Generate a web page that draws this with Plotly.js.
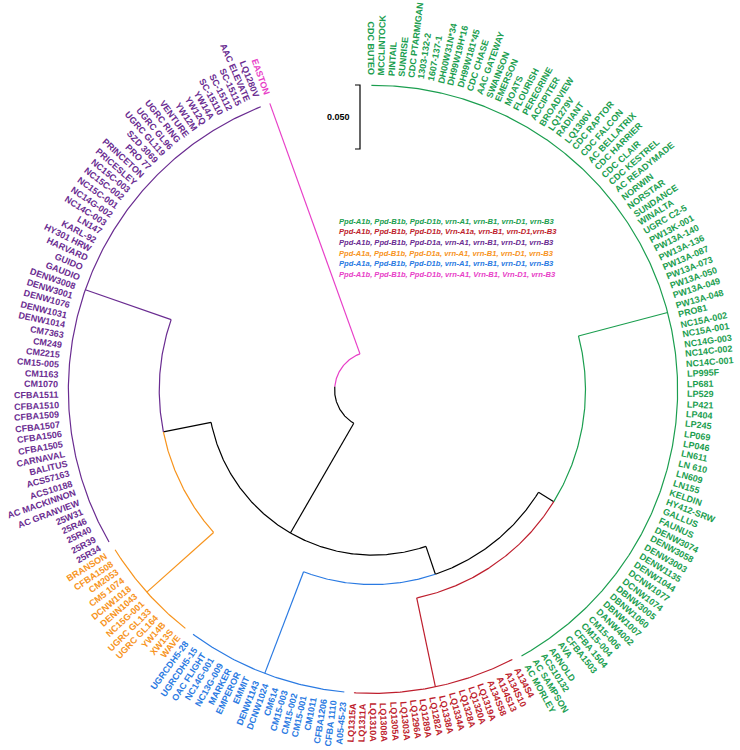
<!DOCTYPE html>
<html><head><meta charset="utf-8">
<script src="https://cdn.plot.ly/plotly-3.0.1.min.js"></script>
<style>html,body{margin:0;padding:0;background:#fff}#chart{width:740px;height:750px}</style>
</head><body><div id="chart"></div>
<script>
// ---------- DATA ----------
const greenLeaves = ['CDC BUTEO','MCCLINTOCK','PINTAIL','SUNRISE','CDC PTARMIGAN','1303-132-2','1607-137-1','DH00W31N*34','DH99W19H*16','DH99W181*45','CDC CHASE','AAC GATEWAY','SWAINSON','EMERSON','MOATS','FLOURISH','PEREGRINE','ACCIPITER','BROADVIEW','LQ1279V','RADIANT','LQ1306V','CDC RAPTOR','CDC FALCON','AC BELLATRIX','CDC HARRIER','CDC CLAIR','CDC KESTREL','AC READYMADE','NORWIN','NORSTAR','SUNDANCE','WINALTA','UGRC C2-5','PW13K-001','PW13A-140','PW13A-136','PW13A-087','PW13A-073','PW13A-050','PW13A-049','PW13A-048','PRO81','NC15A-002','NC15A-001','NC14G-003','NC14C-002','NC14C-001','LP995F','LP681','LP529','LP421','LP404','LP245','LP069','LP046','LN611','LN 610','LN609','LN155','KELDIN','HY412-SRW','GALLUS','FAUNUS','DENW3074','DENW3058','DENW3003','DENW1135','DENW1044','DCNW1077','DCNW1074','DBNW3005','DBNW1060','DBNW1007','DANW4002','CM15-006','CM15-004','CFBA 1504','CFBA1503','AVA','ARNOLD','ACS10132','AC SAMPSON','AC MORLEY'];
const redLeaves = ['A134S4','A134S10','A134S13','A134S58','LQ1319A','LQ1320A','LQ1328A','LQ1334A','LQ1338A','LQ1282A','LQ1289A','LQ1296A','LQ1303A','LQ1305A','LQ1308A','LQ1310A','LQ1311A','LQ1315A'];
const blueLeaves = ['A05-45-23','CFBA 1110','CFBA1206','CM1011','CM15-001','CM15-002','CM15-003','CM614','DCNW1024','DENW1143','EMMIT','EMPEROR','MARKER','NC13G-009','NC14G-001','OAC FLIGHT','UGRCDH5-15','UGRCDH5-28'];
const orangeLeaves = ['WAVE','XW13S','YW14B','UGRC GL164','UGRC GL133','NC15G-001','DENN1043','DCNW1018','CM5 1074','CM2053','CFBA1508','BRANSON'];
const purpleLeaves = ['25R34','25R39','25R40','25R46','25W31','AC GRANVIEW','AC MACKINNON','ACS10188','ACS57163','BALITUS','CARNAVAL','CFBA1505','CFBA1506','CFBA1507','CFBA1509','CFBA1510','CFBA1511','CM1070','CM1163','CM15-005','CM2215','CM249','CM7363','DENW1014','DENW1031','DENW1076','DENW3001','DENW3008','GAUDIO','GUIDO','HARVARD','HY301 HRW','KARL-92','LN147','NC14C-003','NC14G-002','NC15C-001','NC15C-002','NC15C-003','PRICESLEY','PRINCETON','PRO 77','SZD 3069','UGRC GL119','UGRC GL96','UGRC RING','VENTURE','YW12M','YW12Q','YW14A','SC-15110','SC-15112','SC-15115','AAC ELEVATE','LQ1280V'];
const pinkLeaves = ['EASTON'];

const cladeColors = ['#1b9e4f','#be1e2d','#2a7ae2','#f7941d','#6a2c91','#e83fc8'];
// distances from the root (tree units)
const cladeHeights = [0.238, 0.237, 0.237, 0.237, 0.238, 0.238];
const hGR = 0.166, hY = 0.152, hPO = 0.167, hZ = 0.129, hRoot = 0.03;
const scaleBarLength = 0.05;
const scaleBarLabel = '0.050';

const legendTexts = [
  'Ppd-A1b, Ppd-B1b, Ppd-D1b, vrn-A1, vrn-B1, vrn-D1, vrn-B3',
  'Ppd-A1b, Ppd-B1b, Ppd-D1b, Vrn-A1a, vrn-B1, vrn-D1,vrn-B3',
  'Ppd-A1b, Ppd-B1b, Ppd-D1a, vrn-A1, vrn-B1, vrn-D1, vrn-B3',
  'Ppd-A1a, Ppd-B1b, Ppd-D1a, vrn-A1, vrn-B1, vrn-D1, vrn-B3',
  'Ppd-A1a, Ppd-B1b, Ppd-D1b, vrn-A1, vrn-B1, vrn-D1, vrn-B3',
  'Ppd-A1b, Ppd-B1b, Ppd-D1b, vrn-A1, Vrn-B1, Vrn-D1, vrn-B3'
];
const legendColors = ['#1b9e4f','#be1e2d','#6a2c91','#f7941d','#2a7ae2','#e83fc8'];

// ---------- LAYOUT ----------
const W = 740, H = 750;
const S = 1280;          // pixels per tree unit
const CX = 373, CY = 390; // pixel position of the tree centre
const theta0 = -0.3, sweep = 340.5;
const FONT = 'Liberation Sans, Arial, sans-serif';

const cladeLeaves = [greenLeaves, redLeaves, blueLeaves, orangeLeaves, purpleLeaves, pinkLeaves];
function clade(i){ return {h: cladeHeights[i], leaves: cladeLeaves[i], color: cladeColors[i]}; }
function node(h, children){ return {h, children, color: '#000000'}; }
const tree = node(hRoot, [
  node(hZ, [
    node(hY, [ node(hGR, [clade(0), clade(1)]), clade(2) ]),
    node(hPO, [ clade(3), clade(4) ])
  ]),
  clade(5)
]);

const N = cladeLeaves.reduce((s, l) => s + l.length, 0);
const step = sweep / (N - 1);
let li = 0;
function assign(n){
  if (n.leaves){
    n.angles = n.leaves.map(() => theta0 + (li++) * step);
    n.a = (n.angles[0] + n.angles[n.angles.length-1]) / 2;
  } else {
    n.children.forEach(assign);
    n.a = (n.children[0].a + n.children[n.children.length-1].a) / 2;
  }
}
assign(tree);

function P(h, a){ const t = a * Math.PI / 180; return [h * Math.sin(t), h * Math.cos(t)]; }
const segs = {};
function add(color, pts){
  if (!segs[color]) segs[color] = {x: [], y: []};
  pts.forEach(p => { segs[color].x.push(p[0]); segs[color].y.push(p[1]); });
  segs[color].x.push(null); segs[color].y.push(null);
}
function arc(h, a1, a2){
  const n = Math.max(2, Math.ceil(Math.abs(a2 - a1) / 0.4) + 1), pts = [];
  for (let k = 0; k < n; k++) pts.push(P(h, a1 + (a2 - a1) * k / (n - 1)));
  return pts;
}
function draw(n, parentH){
  if (parentH !== null) add(n.color, [P(parentH, n.a), P(n.h, n.a)]);
  if (n.leaves){
    if (n.leaves.length > 1) add(n.color, arc(n.h, n.angles[0], n.angles[n.angles.length-1]));
  } else {
    n.children.forEach(c => { add(c.color, arc(n.h, n.a, c.a)); draw(c, n.h); });
  }
}
draw(tree, null);

const traces = Object.keys(segs).map(c => ({
  type: 'scatter', mode: 'lines', x: segs[c].x, y: segs[c].y,
  line: {color: c, width: 1.2}, hoverinfo: 'skip', showlegend: false
}));

// scale bar
const px2x = px => (px - CX) / S, px2y = py => (CY - py) / S;
const sbX = px2x(360), sbTop = px2y(85);
traces.push({type: 'scatter', mode: 'lines',
  x: [sbX - 5/S, sbX, sbX, sbX - 5/S], y: [sbTop, sbTop, sbTop - scaleBarLength, sbTop - scaleBarLength],
  line: {color: '#000', width: 1.2}, hoverinfo: 'skip', showlegend: false});

// labels
const cv = document.createElement('canvas').getContext('2d');
cv.font = 'bold 9px "Liberation Sans", Arial, sans-serif';
const annotations = [];
const labelGap = 10 / S;
function labelsFor(n){
  if (n.leaves){
    n.leaves.forEach((name, k) => {
      const a = n.angles[k];
      const w = cv.measureText(name).width / S;
      const p = P(n.h + labelGap + w / 2, a);
      const ta = (a % 360 + 360) % 360 < 180 ? a - 90 : a - 270;
      annotations.push({x: p[0], y: p[1], xref: 'x', yref: 'y', text: '<b>' + name + '</b>',
        showarrow: false, textangle: ta, xanchor: 'center', yanchor: 'middle',
        font: {family: FONT, size: 9, color: n.color}, borderpad: 0});
    });
  } else n.children.forEach(labelsFor);
}
labelsFor(tree);

annotations.push({x: sbX - 8/S, y: sbTop - scaleBarLength/2, xref: 'x', yref: 'y', text: '<b>' + scaleBarLabel + '</b>',
  showarrow: false, xanchor: 'right', yanchor: 'middle', font: {family: FONT, size: 9, color: '#000'}});

// legend sized so that the first line spans ~215 px
cv.font = 'italic bold 8px "Liberation Sans", Arial, sans-serif';
const legSize = Math.min(8.5, 8 * 215 / cv.measureText(legendTexts[0]).width);
legendTexts.forEach((t, i) => {
  annotations.push({x: px2x(338), y: px2y(221 + i * 10.7), xref: 'x', yref: 'y',
    text: '<b><i>' + t + '</i></b>', showarrow: false, xanchor: 'left', yanchor: 'middle',
    font: {family: FONT, size: legSize, color: legendColors[i]}, borderpad: 0});
});

const layout = {
  width: W, height: H, margin: {l: 0, r: 0, t: 0, b: 0},
  paper_bgcolor: '#fff', plot_bgcolor: '#fff', showlegend: false,
  xaxis: {range: [px2x(0), px2x(W)], visible: false, fixedrange: true},
  yaxis: {range: [px2y(H), px2y(0)], visible: false, fixedrange: true},
  annotations
};
Plotly.newPlot('chart', traces, layout, {displayModeBar: false, staticPlot: true});
</script></body></html>
